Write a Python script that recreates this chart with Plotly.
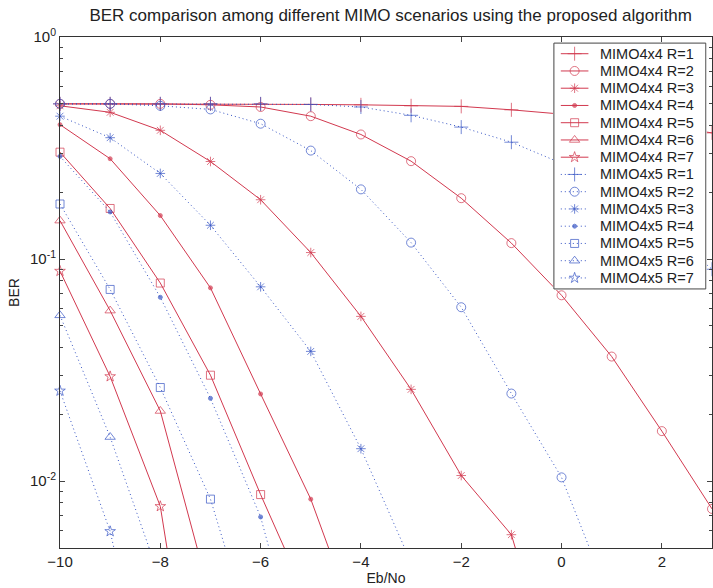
import plotly.graph_objects as go

# x values (Eb/No in dB)
x_all = list(range(-10, 4))

# MIMO4x4 series (R=1..7)
r1 = [0.5, 0.5, 0.5, 0.5, 0.499, 0.497, 0.495, 0.49, 0.487, 0.47, 0.45, 0.43, 0.40, 0.37]
r2 = [0.5, 0.5, 0.5, 0.495, 0.484, 0.44, 0.364, 0.276, 0.188, 0.118, 0.0687, 0.0364, 0.0168, 0.0075]
r3 = [0.49, 0.458, 0.38, 0.275, 0.185, 0.107, 0.0552, 0.0259, 0.0106, 0.00574, 0.001]
r4 = [0.403, 0.283, 0.157, 0.0742, 0.0247, 0.0083, 0.002]
r5 = [0.303, 0.169, 0.078, 0.030, 0.0087, 0.0027]
r6 = [0.149, 0.0586, 0.0207, 0.003]
r7 = [0.0883, 0.0296, 0.0077, 0.0003]

# MIMO4x5 series (R=1..7)
b1 = [0.5, 0.5, 0.5, 0.5, 0.5, 0.497, 0.484, 0.444, 0.393, 0.336, 0.27, 0.20, 0.14, 0.09]
b2 = [0.5, 0.5, 0.49, 0.472, 0.407, 0.308, 0.206, 0.1186, 0.0607, 0.0248, 0.0104, 0.0028]
b3 = [0.44, 0.352, 0.243, 0.142, 0.075, 0.0384, 0.014, 0.0043]
b4 = [0.29, 0.163, 0.0673, 0.0236, 0.0069, 0.001]
b5 = [0.177, 0.073, 0.0264, 0.0083, 0.0015]
b6 = [0.0558, 0.0158, 0.0036]
b7 = [0.0255, 0.00594, 0.0006]

red_series = [r1, r2, r3, r4, r5, r6, r7]
blue_series = [b1, b2, b3, b4, b5, b6, b7]
names_red = ["MIMO4x4 R=%d" % i for i in range(1, 8)]
names_blue = ["MIMO4x5 R=%d" % i for i in range(1, 8)]

symbols = ["cross-thin-open", "circle-open", "asterisk-open", "circle",
           "square-open", "triangle-up-open", "star-open"]
sizes = [10, 9, 8, 4, 8, 9, 8]

x_ticks = [-10, -8, -6, -4, -2, 0, 2]
y_ticks = [1, 0.1, 0.01]
y_ticktext = ["10<sup>0</sup>", "10<sup>-1</sup>", "10<sup>-2</sup>"]
y_minor = [0.006, 0.007, 0.008, 0.009] + [k / 100 for k in range(2, 10)] + [k / 10 for k in range(2, 10)]
Y_MIN = 0.005

RED = "#d2394f"
BLUE = "#3755c4"
FONT = "Liberation Sans, Arial, sans-serif"
RED_DASH = "solid"
BLUE_DASH = "1px,3px"

fig = go.Figure()

entries = []
for s, n, sym, sz in zip(red_series, names_red, symbols, sizes):
    entries.append((s, n, RED, RED_DASH, sym, sz))
for s, n, sym, sz in zip(blue_series, names_blue, symbols, sizes):
    entries.append((s, n, BLUE, BLUE_DASH, sym, sz))

for s, n, color, dash, sym, sz in entries:
    fig.add_trace(go.Scatter(
        x=x_all[:len(s)], y=s, name=n, mode="lines+markers",
        line=dict(color=color, width=1, dash=dash),
        marker=dict(symbol=sym, size=[sz if v >= Y_MIN else 0 for v in s],
                    color=color, line=dict(color=color, width=1)),
        cliponaxis=False, showlegend=False, xaxis="x", yaxis="y",
    ))

# ---- legend box drawn in its own small (hidden) axes, in pixel units ----
LW, LH = 154, 248          # legend box size (px)
ROW0, ROW = 10.7, 17.4     # first row centre and row pitch (px)
fig.add_trace(go.Scatter(
    x=[0, LW, LW, 0, 0], y=[0, 0, LH, LH, 0], mode="lines", fill="toself",
    fillcolor="white", line=dict(color="#444", width=1),
    showlegend=False, hoverinfo="skip", xaxis="x2", yaxis="y2",
))
for k, (s, n, color, dash, sym, sz) in enumerate(entries):
    yk = ROW0 + ROW * k
    fig.add_trace(go.Scatter(
        x=[7, 21, 35], y=[yk, yk, yk], mode="lines+markers",
        line=dict(color=color, width=1, dash=dash),
        marker=dict(symbol=sym, size=[0, sz, 0], color=color, line=dict(color=color, width=1)),
        showlegend=False, hoverinfo="skip", xaxis="x2", yaxis="y2",
    ))
    fig.add_annotation(x=45, y=yk, xref="x2", yref="y2", text=n, showarrow=False,
                       xanchor="left", yanchor="middle",
                       font=dict(size=14.5, family=FONT, color="#222"))

fig.update_layout(
    width=713, height=588,
    margin=dict(l=60, r=1, t=37, b=40),
    paper_bgcolor="white", plot_bgcolor="white",
    font=dict(family=FONT, size=15, color="#222"),
    title=dict(text="BER comparison among different MIMO scenarios using the proposed algorithm",
               x=0.548, xanchor="center", y=1 - 15 / 588, yanchor="middle",
               font=dict(size=17, family=FONT, color="#222")),
    showlegend=False,
    xaxis=dict(
        range=[-10, 3], tickvals=x_ticks, ticks="inside", ticklen=5,
        mirror="allticks", showline=True, linecolor="#333", linewidth=1,
        showgrid=False, zeroline=False, tickfont=dict(size=15),
        title=dict(text="Eb/No", standoff=2, font=dict(size=14)),
    ),
    yaxis=dict(
        type="log", range=[-2.301, 0], tickvals=y_ticks, ticktext=y_ticktext,
        ticks="inside", ticklen=5, mirror="allticks", showline=True,
        linecolor="#333", linewidth=1, showgrid=False, zeroline=False,
        tickfont=dict(size=15),
        minor=dict(tickvals=y_minor, ticks="inside", ticklen=3, showgrid=False),
        title=dict(text="BER", standoff=7, font=dict(size=14)),
    ),
    xaxis2=dict(domain=[0.756, 0.992], anchor="y2", range=[-1, LW + 1],
                visible=False, fixedrange=True),
    yaxis2=dict(domain=[0.505, 0.990], anchor="x2", range=[LH + 1, -1],
                visible=False, fixedrange=True),
)

fig.write_html("out.html")
